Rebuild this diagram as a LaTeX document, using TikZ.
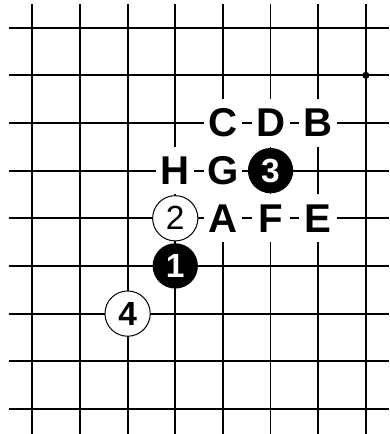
\documentclass[tikz,border=0pt]{standalone}
\usepackage{fontspec}
\newfontfamily\boardfont{Liberation Sans}

\tikzset{
  letterpt/.style={fill=white,inner sep=0pt,minimum width=0.8cm,minimum height=1.0cm,
    font=\boardfont\fontsize{24}{24}\bfseries\selectfont},
  whitestone/.style={circle,draw,line width=0.6pt,fill=white,inner sep=0pt,minimum size=0.95cm,
    font=\boardfont\fontsize{20}{20}\selectfont},
  blackstone/.style={circle,fill=black,text=white,inner sep=0pt,minimum size=0.95cm,
    font=\boardfont\fontsize{20}{20}\bfseries\selectfont},
}

\begin{document}
\begin{tikzpicture}
  \useasboundingbox (-0.678,0.581) rectangle (7.486,-8.527);

  % board lines
  \foreach \r in {0,...,8}
    \draw[line width=1.1pt] (-0.49,-\r) -- (7.486,-\r);
  \foreach \c in {0,...,7}
    \draw[line width=1.1pt] (\c,0.497) -- (\c,-8.527);
  \fill (7,-1) circle (0.075);

  % marked points
  \node[letterpt] (ptC) at (4,-2) {C};
  \node[letterpt] (ptD) at (5,-2) {D};
  \node[letterpt] (ptB) at (6,-2) {B};
  \node[letterpt] (ptH) at (3,-3) {H};
  \node[letterpt] (ptG) at (4,-3) {G};
  \node[letterpt] (ptA) at (4,-4) {A};
  \node[letterpt] (ptF) at (5,-4) {F};
  \node[letterpt] (ptE) at (6,-4) {E};

  % stones
  \node[blackstone] (move1) at (3,-5) {1};
  \node[whitestone] (move2) at (3,-4) {2};
  \node[blackstone] (move3) at (5,-3) {3};
  \node[whitestone] (move4) at (2,-6) {\bfseries 4};
\end{tikzpicture}
\end{document}
